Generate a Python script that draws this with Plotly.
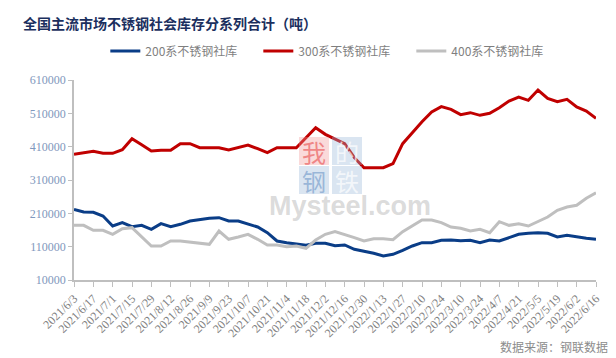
import plotly.graph_objects as go

dates = [
    "2021/6/3", "2021/6/10", "2021/6/17", "2021/6/24", "2021/7/1", "2021/7/8", "2021/7/15",
    "2021/7/22", "2021/7/29", "2021/8/5", "2021/8/12", "2021/8/19", "2021/8/26", "2021/9/2",
    "2021/9/9", "2021/9/16", "2021/9/23", "2021/9/30", "2021/10/7", "2021/10/14", "2021/10/21",
    "2021/10/28", "2021/11/4", "2021/11/11", "2021/11/18", "2021/11/25", "2021/12/2", "2021/12/9",
    "2021/12/16", "2021/12/23", "2021/12/30", "2022/1/6", "2022/1/13", "2022/1/20", "2022/1/27",
    "2022/2/3", "2022/2/10", "2022/2/17", "2022/2/24", "2022/3/3", "2022/3/10", "2022/3/17",
    "2022/3/24", "2022/3/31", "2022/4/7", "2022/4/14", "2022/4/21", "2022/4/28", "2022/5/5",
    "2022/5/12", "2022/5/19", "2022/5/26", "2022/6/2", "2022/6/9", "2022/6/16",
]

s200 = [222000, 214000, 213000, 202000, 172000, 182000, 170000, 174000, 162000, 179000,
        170000, 177000, 187000, 192000, 195000, 197000, 187000, 187000, 177000, 169000,
        152000, 127000, 122000, 117000, 114000, 120000, 120000, 113000, 115000, 102000,
        97000, 90000, 82000, 87000, 99000, 112000, 122000, 122000, 129000, 130000,
        128000, 129000, 122000, 130000, 127000, 137000, 147000, 150000, 152000, 150000,
        139000, 144000, 139000, 135000, 132000]

s300 = [387000, 391000, 396000, 390000, 390000, 401000, 434000, 416000, 397000, 399000,
        399000, 419000, 419000, 407000, 407000, 407000, 400000, 408000, 415000, 404000,
        392000, 407000, 407000, 407000, 437000, 467000, 447000, 434000, 419000, 377000,
        347000, 347000, 347000, 359000, 419000, 452000, 485000, 514000, 530000, 522000,
        506000, 512000, 504000, 510000, 527000, 547000, 559000, 549000, 580000, 555000,
        545000, 552000, 529000, 517000, 495000]

s400 = [174000, 174000, 159000, 159000, 147000, 164000, 167000, 139000, 112000, 112000,
        127000, 127000, 124000, 122000, 117000, 157000, 132000, 139000, 147000, 132000,
        115000, 115000, 110000, 112000, 105000, 130000, 147000, 155000, 147000, 137000,
        127000, 134000, 134000, 131000, 155000, 172000, 190000, 190000, 182000, 169000,
        165000, 157000, 162000, 152000, 185000, 174000, 179000, 172000, 185000, 199000,
        219000, 229000, 234000, 255000, 272000]

tick_labels = dates[::2]
y_ticks = [10000, 110000, 210000, 310000, 410000, 510000, 610000]

names = ["200系不锈钢社库", "300系不锈钢社库", "400系不锈钢社库"]
colors = ["#0a3d87", "#c00000", "#bfbfbf"]

fig = go.Figure()
for name, vals, col in zip(names, [s200, s300, s400], colors):
    fig.add_trace(go.Scatter(x=dates, y=vals, name=name, mode="lines",
                             line=dict(color=col, width=3)))

# watermark
wm = [("我", 306, 143, "rgba(240,150,150,0.35)", "rgba(230,60,60,0.55)"),
      ("的", 339, 143, "rgba(150,180,215,0.35)", "rgba(255,255,255,0.7)"),
      ("钢", 306, 172, "rgba(150,180,215,0.35)", "rgba(110,150,200,0.6)"),
      ("铁", 339, 172, "rgba(150,180,215,0.35)", "rgba(255,255,255,0.7)")]
for ch, cx, cy, bg, fc in wm:
    fig.add_shape(type="rect", xref="paper", yref="paper",
                  x0=(cx - 15 - 66) / 522, x1=(cx + 15 - 66) / 522,
                  y0=(272 - (cy + 14)) / 200, y1=(272 - (cy - 14)) / 200,
                  fillcolor=bg, line=dict(width=0), layer="above")
    fig.add_annotation(text=ch, xref="paper", yref="paper",
                       x=(cx - 66) / 522, y=(272 - cy) / 200, showarrow=False,
                       font=dict(size=24, color=fc, family="Noto Sans CJK SC"))
fig.add_annotation(text="<b>Mysteel.com</b>", xref="paper", yref="paper",
                   x=(342 - 66) / 522, y=(272 - 198) / 200, showarrow=False,
                   font=dict(size=27, color="rgba(175,175,175,0.45)", family="Liberation Sans"))

fig.add_annotation(text="数据来源：钢联数据", xref="paper", yref="paper",
                   x=(602 - 66) / 522, y=(272 - 338) / 200, xanchor="right", yanchor="middle",
                   showarrow=False, font=dict(size=12, color="#8c8c8c", family="Noto Sans CJK SC"))

fig.update_layout(
    width=616, height=358,
    margin=dict(l=66, r=28, t=72, b=86),
    paper_bgcolor="white", plot_bgcolor="white",
    title=dict(text="<b>全国主流市场不锈钢社会库存分系列合计（吨）</b>",
               x=15 / 616, xanchor="left", y=1 - 16 / 358, yanchor="middle",
               font=dict(size=14, color="#1b2f5e", family="Noto Sans CJK SC")),
    legend=dict(orientation="h", x=0.06, y=1 + 29 / 200, xanchor="left", yanchor="middle",
                font=dict(size=12, color="#7f7f7f", family="Noto Sans CJK SC"),
                itemwidth=30, entrywidth=108, entrywidthmode="pixels", bgcolor="rgba(0,0,0,0)"),
    showlegend=True,
    font=dict(family="Liberation Serif"),
)

fig.update_xaxes(type="category", range=[0, len(dates) - 1],
                 tickmode="array", tickvals=tick_labels, ticktext=tick_labels,
                 tickangle=-45, ticks="outside", ticklen=5, tickcolor="#bfbfbf",
                 showline=True, linecolor="#bfbfbf", linewidth=1.5, showgrid=False,
                 tickfont=dict(size=12, color="#7f7f7f", family="Liberation Serif"),
                 zeroline=False)
fig.update_yaxes(range=[10000, 610000], tickmode="array", tickvals=y_ticks,
                 ticktext=[str(v) for v in y_ticks],
                 ticks="outside", ticklen=4, tickcolor="#bfbfbf",
                 showline=True, linecolor="#bfbfbf", linewidth=1.5, showgrid=False,
                 tickfont=dict(size=12, color="#7f98bd", family="Liberation Serif"),
                 zeroline=False)

fig.write_html("out.html")
